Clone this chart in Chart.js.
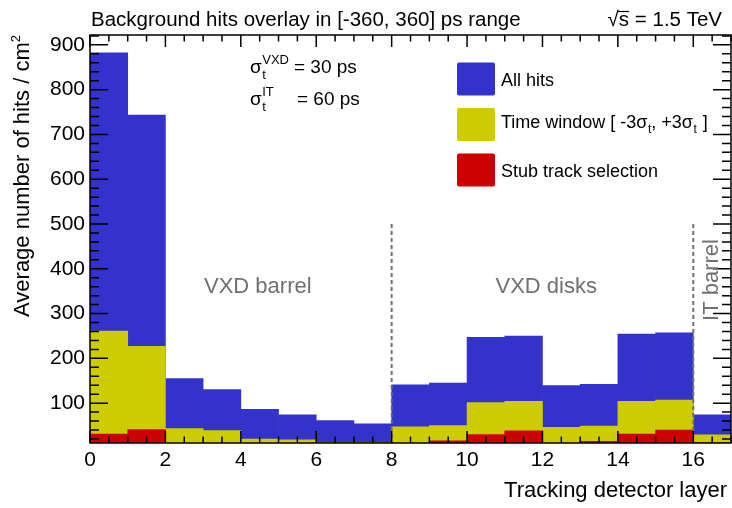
<!DOCTYPE html>
<html>
<head>
<meta charset="utf-8">
<script src="https://cdn.jsdelivr.net/npm/chart.js@4.4.1/dist/chart.umd.min.js"></script>
<style>
  html, body { margin: 0; padding: 0; background: #fff; }
  #wrap { width: 732px; height: 508px; }
</style>
</head>
<body>
<div id="wrap"><canvas id="hitsChart" width="732" height="508"></canvas></div>
<script>
// Capas del detector (bines de ancho 1, de 0 a 17)
const layers = [0, 1, 2, 3, 4, 5, 6, 7, 8, 9, 10, 11, 12, 13, 14, 15, 16];
const allHits = [882, 743, 155, 130, 86, 74, 61, 54, 141, 145, 247, 250, 139, 142, 254, 257, 74];
const timeWindow = [261, 227, 43, 39, 20, 18, 12, 12, 47, 50, 101, 104, 46, 49, 104, 107, 29];
const stubTrack = [31, 41, 8, 8, 8, 8, 8, 9, 10, 16, 30, 38, 9, 15, 31, 40, 12];
const xTicks = [0, 2, 4, 6, 8, 10, 12, 14, 16];
const yTicks = [100, 200, 300, 400, 500, 600, 700, 800, 900];
const regionEdges = [8, 16];
const regionTop = 500;

const FONT = '"Liberation Sans", Arial, Helvetica, sans-serif';
const BLUE = '#3333cc', YELLOW = '#cccc00', RED = '#cc0000', GREY = '#707070';

const toPoints = vals => vals.map((v, i) => ({ x: layers[i] + 0.5, y: v }));

// Texto con subíndice/superíndice (estilo ROOT)
function drawSigma(ctx, x, y, sup, size) {
    ctx.font = size + 'px ' + FONT;
    ctx.fillText('σ', x, y);
    const w = ctx.measureText('σ').width;
    ctx.font = Math.round(size * 0.68) + 'px ' + FONT;
    ctx.fillText('t', x + w + 0.5, y + size * 0.3);
    let w2 = ctx.measureText('t').width;
    if (sup) {
        ctx.fillText(sup, x + w + 0.5, y - size * 0.45);
        w2 = Math.max(w2, ctx.measureText(sup).width);
    }
    return x + w + 0.5 + w2;
}

const decorations = {
    id: 'decorations',
    afterDatasetsDraw(chart) {
        const { ctx, chartArea: a, scales: { x, y } } = chart;
        ctx.save();

        // Líneas discontinuas entre regiones
        ctx.strokeStyle = GREY;
        ctx.lineWidth = 2;
        ctx.setLineDash([4, 3]);
        regionEdges.forEach(e => {
            ctx.beginPath();
            ctx.moveTo(x.getPixelForValue(e), y.getPixelForValue(regionTop));
            ctx.lineTo(x.getPixelForValue(e), a.bottom);
            ctx.stroke();
        });
        ctx.setLineDash([]);

        // Marco y marcas de los ejes (hacia dentro, en los cuatro lados)
        ctx.strokeStyle = '#000';
        ctx.lineWidth = 1.5;
        ctx.strokeRect(a.left, a.top, a.right - a.left, a.bottom - a.top);
        ctx.beginPath();
        for (let v = 0; v <= 17; v += 0.5) {
            const px = x.getPixelForValue(v);
            const len = (v % 2 === 0) ? 12 : 6.5;
            ctx.moveTo(px, a.bottom); ctx.lineTo(px, a.bottom - len);
            ctx.moveTo(px, a.top); ctx.lineTo(px, a.top + len);
        }
        for (let v = 20; v <= 920; v += 20) {
            const py = y.getPixelForValue(v);
            const len = (v % 100 === 0) ? 18 : 9;
            ctx.moveTo(a.left, py); ctx.lineTo(a.left + len, py);
            ctx.moveTo(a.right, py); ctx.lineTo(a.right - len, py);
        }
        ctx.stroke();

        // Nombres de las regiones
        ctx.fillStyle = GREY;
        ctx.font = '22px ' + FONT;
        ctx.textAlign = 'center';
        ctx.textBaseline = 'middle';
        ctx.fillText('VXD barrel', x.getPixelForValue(4.45), 287);
        ctx.fillText('VXD disks', x.getPixelForValue(12.1), 287);
        ctx.save();
        ctx.translate(x.getPixelForValue(16.5), 280);
        ctx.rotate(-Math.PI / 2);
        ctx.fillText('IT barrel', 0, 0);
        ctx.restore();

        // Resoluciones temporales
        ctx.fillStyle = '#000';
        ctx.textAlign = 'left';
        ctx.textBaseline = 'alphabetic';
        drawSigma(ctx, 250, 73, 'VXD', 19);
        ctx.font = '19px ' + FONT;
        ctx.fillText('= 30 ps', 294, 73);
        drawSigma(ctx, 250, 105, 'IT', 19);
        ctx.font = '19px ' + FONT;
        ctx.fillText('= 60 ps', 297, 105);

        // Leyenda
        const entries = [[BLUE, 62.5], [YELLOW, 108], [RED, 153.5]];
        entries.forEach(([c, top]) => {
            ctx.fillStyle = c;
            ctx.beginPath();
            ctx.roundRect(457, top, 38, 33, 2);
            ctx.fill();
        });
        ctx.fillStyle = '#000';
        ctx.font = '18px ' + FONT;
        ctx.textBaseline = 'alphabetic';
        ctx.fillText('All hits', 501, 86);
        ctx.fillText('Stub track selection', 501, 177);
        let tx = 501;
        ctx.fillText('Time window [ -3', tx, 128);
        tx += ctx.measureText('Time window [ -3').width;
        tx = drawSigma(ctx, tx, 128, null, 18);
        ctx.font = '18px ' + FONT;
        ctx.fillText(', +3', tx, 128);
        tx += ctx.measureText(', +3').width;
        tx = drawSigma(ctx, tx, 128, null, 18);
        ctx.font = '18px ' + FONT;
        ctx.fillText(' ]', tx + 1, 128);

        // Título y energía
        ctx.font = '20.5px ' + FONT;
        ctx.fillText('Background hits overlay in [-360, 360] ps range', 91, 26);
        ctx.textAlign = 'right';
        ctx.fillText('√s = 1.5 TeV', 722, 26);
        const wAll = ctx.measureText('√s = 1.5 TeV').width;
        const wRoot = ctx.measureText('√').width;
        const wS = ctx.measureText('s').width;
        const sx = 722 - wAll + wRoot - 1;
        ctx.lineWidth = 1.2;
        ctx.beginPath();
        ctx.moveTo(sx, 11.5);
        ctx.lineTo(sx + wS + 1, 11.5);
        ctx.stroke();

        // Títulos de los ejes
        ctx.font = '22px ' + FONT;
        ctx.textAlign = 'right';
        ctx.fillText('Tracking detector layer', 727, 497);
        ctx.save();
        ctx.translate(29, 35);
        ctx.rotate(-Math.PI / 2);
        ctx.font = '13px ' + FONT;
        ctx.fillText('2', 0, -9);
        const w2 = ctx.measureText('2').width;
        ctx.font = '22px ' + FONT;
        ctx.fillText('Average number of hits / cm', -w2, 0);
        ctx.restore();

        ctx.restore();
    }
};

new Chart(document.getElementById('hitsChart').getContext('2d'), {
    type: 'bar',
    data: {
        datasets: [
            { label: 'Stub track selection', data: toPoints(stubTrack), backgroundColor: RED, order: 1 },
            { label: 'Time window [ -3σt, +3σt ]', data: toPoints(timeWindow), backgroundColor: YELLOW, order: 2 },
            { label: 'All hits', data: toPoints(allHits), backgroundColor: BLUE, order: 3 }
        ]
    },
    options: {
        responsive: false,
        animation: false,
        devicePixelRatio: 1,
        layout: { padding: { top: 35, right: 1, left: 0, bottom: 0 } },
        datasets: { bar: { grouped: false, barPercentage: 1, categoryPercentage: 1, borderWidth: 0 } },
        plugins: { legend: { display: false }, tooltip: { enabled: false } },
        scales: {
            x: {
                type: 'linear',
                offset: false,
                min: 0, max: 17,
                afterBuildTicks: s => { s.ticks = xTicks.map(v => ({ value: v })); },
                afterFit: s => { s.height = 65; },
                grid: { display: false, drawTicks: false },
                border: { display: false },
                ticks: { color: '#000', padding: 5, font: { family: FONT, size: 21 } }
            },
            y: {
                min: 11, max: 922,
                afterBuildTicks: s => { s.ticks = yTicks.map(v => ({ value: v })); },
                afterFit: s => { s.width = 90; },
                grid: { display: false, drawTicks: false },
                border: { display: false },
                ticks: { color: '#000', padding: 5, font: { family: FONT, size: 21 } }
            }
        }
    },
    plugins: [decorations]
});
</script>
</body>
</html>
